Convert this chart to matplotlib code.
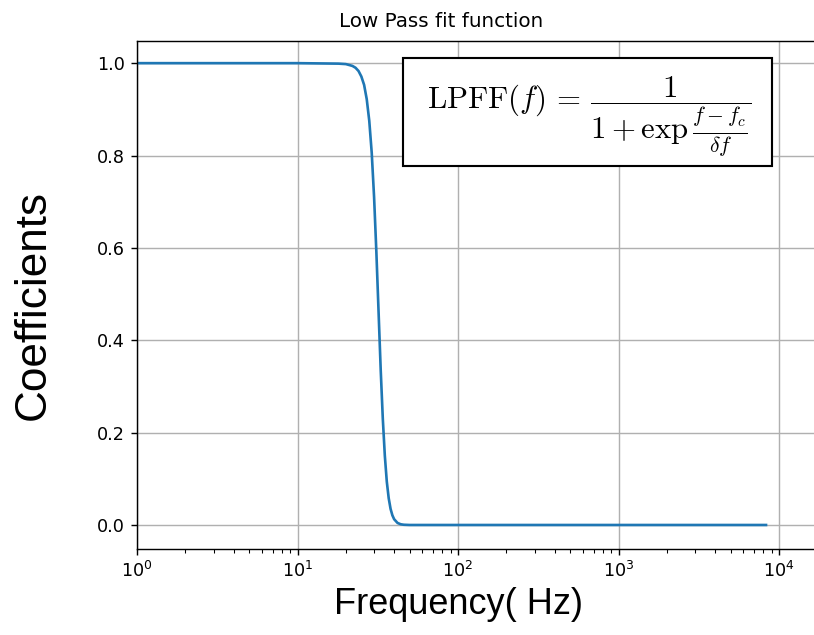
import matplotlib
matplotlib.use("Agg")
import matplotlib.pyplot as plt
from matplotlib.patches import Rectangle

# values
freq = [1, 10, 18, 20, 21, 22, 23, 24, 25, 26, 27, 28, 29, 30, 31, 32, 33,
        34, 35, 36, 37, 38, 39, 40, 42, 44, 46, 50, 100, 1000, 8300]
coef = [1.0, 1.0, 0.999, 0.998, 0.996, 0.994, 0.990, 0.983, 0.971, 0.953,
        0.922, 0.875, 0.806, 0.710, 0.591, 0.461, 0.335, 0.230, 0.150,
        0.094, 0.058, 0.035, 0.021, 0.0125, 0.0044, 0.0015, 0.0005, 0.0,
        0.0, 0.0, 0.0]

yticks = [0.0, 0.2, 0.4, 0.6, 0.8, 1.0]

plt.rcParams['mathtext.fontset'] = 'cm'

W, H = 814, 635
fig = plt.figure(figsize=(W / 127, H / 127), dpi=127)
ax = fig.add_axes([137 / W, 1 - 549 / H, 1 - 137 / W, (549 - 41) / H])

ax.plot(freq, coef, color='#1f77b4', lw=1.5)
ax.set_xscale('log')
ax.set_xlim(1, 10 ** 4.218)
ax.set_ylim(-0.052, 1.048)
ax.set_yticks(yticks)
ax.grid(True, which='major')
ax.spines['right'].set_visible(False)
ax.set_title("Low Pass fit function", fontsize=11.3, pad=8, x=0.449)

# formula box
ax.add_patch(Rectangle((0.393, 0.754), 0.545, 0.2125, transform=ax.transAxes,
                       fc='white', ec='black', lw=1.2, zorder=5))
ax.text(0.668, 0.850,
        r"$\mathrm{LPFF}(f)\,=\,\dfrac{1}{1+\exp\frac{f-f_c}{\delta f}}$",
        transform=ax.transAxes, ha='center', va='center', fontsize=17.5,
        zorder=6)

fig.text(458 / W, 1 - 605 / H, "Frequency( Hz)", family='Liberation Sans',
         fontsize=20.5, ha='center', va='center')
fig.text(33 / W, 1 - 305 / H, "Coefficients", family='Liberation Sans',
         fontsize=25, ha='center', va='center', rotation=90)

fig.savefig("out.png", dpi=127)
